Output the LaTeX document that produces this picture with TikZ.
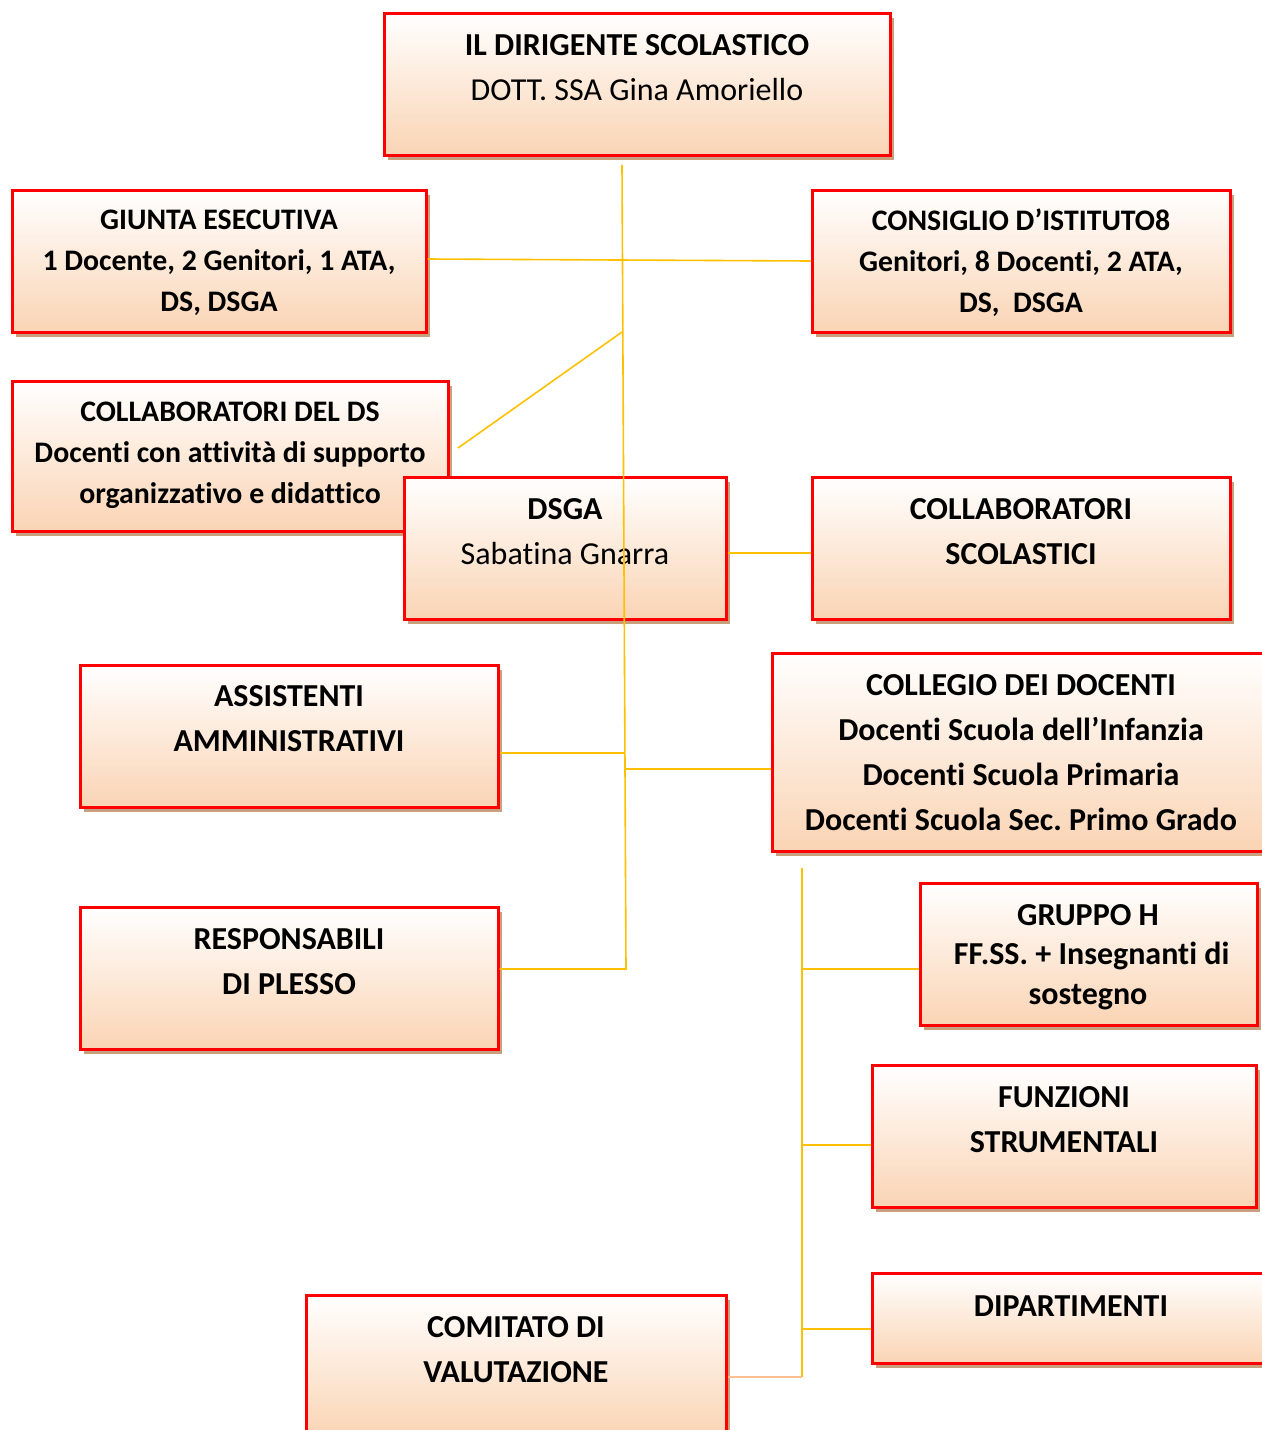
\documentclass[tikz,border=0pt]{standalone}
\usepackage{fontspec}
\setmainfont{Carlito}[RawFeature={-liga;-clig;-dlig}]
\usetikzlibrary{shadows,calc}
\definecolor{peach}{RGB}{250,212,180}
\definecolor{shadowc}{RGB}{201,160,126}
\definecolor{linec}{RGB}{255,192,0}
\definecolor{linep}{RGB}{250,192,144}
\frenchspacing
\begin{document}
\begin{tikzpicture}[x=0.5pt,y=-0.5pt,
  obox/.style={rectangle, draw=red, line width=1.5pt, top color=white, bottom color=peach, inner sep=0pt,
    drop shadow={shadow xshift=1.8pt, shadow yshift=-2.6pt, fill=shadowc, opacity=1}},
  lbl/.style={align=center, inner sep=0pt, font=\bfseries\fontsize{16}{22.5}\selectfont},
  lbls/.style={align=center, inner sep=0pt, font=\bfseries\fontsize{14.9}{20.5}\selectfont},
  lblg/.style={align=center, inner sep=0pt, font=\bfseries\fontsize{16}{19.8}\selectfont},
  conn/.style={draw=linec, line width=0.8pt},
  connp/.style={draw=linep, line width=0.9pt}]
\useasboundingbox (0,0) rectangle (1262,1430);

% boxes
\node[obox, minimum width=253pt, minimum height=71pt] (dir) at (637,84) {};
\node[obox, minimum width=207pt, minimum height=71pt] (giunta) at (219,261) {};
\node[obox, minimum width=209pt, minimum height=71pt] (consiglio) at (1021,261) {};
\node[obox, minimum width=218pt, minimum height=75pt] (collds) at (230,456) {};
\node[obox, minimum width=161pt, minimum height=71pt] (dsga) at (565,548) {};
\node[obox, minimum width=209pt, minimum height=71pt] (collscol) at (1021,548) {};
\node[obox, minimum width=209pt, minimum height=71pt] (assist) at (289,736) {};
\node[obox, minimum width=250pt, minimum height=99pt] (collegio) at (1022,752) {};
\node[obox, minimum width=209pt, minimum height=71pt] (resp) at (289,978) {};
\node[obox, minimum width=168.5pt, minimum height=71pt] (gruppo) at (1088.5,954) {};
\node[obox, minimum width=192pt, minimum height=71pt] (funz) at (1064,1136) {};
\node[obox, minimum width=199pt, minimum height=45pt] (dip) at (1071,1318) {};
\node[obox, minimum width=210pt, minimum height=71pt] (comitato) at (516,1366) {};

% texts
\node[lbl] (dirT) at (637,67.5) {IL DIRIGENTE SCOLASTICO\\{\mdseries DOTT. SSA Gina Amoriello}};
\node[lbls] (giuntaT) at (219,263) {GIUNTA ESECUTIVA\\1 Docente, 2 Genitori, 1 ATA,\\DS, DSGA};
\node[lbls] (consiglioT) at (1021,263) {CONSIGLIO D’ISTITUTO8\\Genitori, 8 Docenti, 2 ATA,\\DS,\ \ DSGA};
\node[lbls] (colldsT) at (230,455) {COLLABORATORI DEL DS\\Docenti con attività di supporto\\organizzativo e didattico};
\node[lbl] (dsgaT) at (565,532) {DSGA\\{\mdseries Sabatina Gnarra}};
\node[lbl] (collscolT) at (1021,531.5) {COLLABORATORI\\SCOLASTICI};
\node[lbl] (assistT) at (289,719) {ASSISTENTI\\AMMINISTRATIVI};
\node[lbl] (collegioT) at (1021,753) {COLLEGIO DEI DOCENTI\\Docenti Scuola dell’Infanzia\\Docenti Scuola Primaria\\Docenti Scuola Sec. Primo Grado};
\node[lbl] (respT) at (289,961.5) {RESPONSABILI\\DI PLESSO};
\node[lblg] (gruppoT) at (1088,957) {GRUPPO H\\\ FF.SS. + Insegnanti di\\sostegno};
\node[lbl] (funzT) at (1064,1119.5) {FUNZIONI\\STRUMENTALI};
\node[lbl] (dipT) at (1071,1306) {DIPARTIMENTI};
\node[lbl] (comitatoT) at (516,1350) {COMITATO DI\\VALUTAZIONE};

% connector coordinates
\coordinate (vtop) at (622,165);
\coordinate (vbot) at (626,969);
\coordinate (jd) at (622,332);
\coordinate (dend) at (458,448);
\coordinate (ja) at (624.4,753);
\coordinate (jc) at (624.7,769);
\coordinate (v2top) at (802,868);
\coordinate (v2bot) at (802,1377);
\coordinate (h1) at (802,969);
\coordinate (h2) at (802,1145);
\coordinate (h3) at (802,1329);

% connectors
\draw[conn] (vtop) -- (vbot) -- (vbot -| resp.east);
\draw[conn] ([yshift=1pt]giunta.east) -- (consiglio.west);
\draw[conn] (jd) -- (dend);
\draw[conn] ([yshift=-2.5pt]dsga.east) -- ([yshift=-2.5pt]collscol.west);
\draw[conn] (ja) -- (ja -| assist.east);
\draw[conn] (jc) -- (jc -| collegio.west);
\draw[conn] (v2top) -- (v2bot);
\draw[conn] (h1) -- (h1 -| gruppo.west);
\draw[conn] (h2) -- (h2 -| funz.west);
\draw[conn] (h3) -- (h3 -| dip.west);
\draw[connp] (v2bot) -- (v2bot -| comitato.east);
\end{tikzpicture}
\end{document}
